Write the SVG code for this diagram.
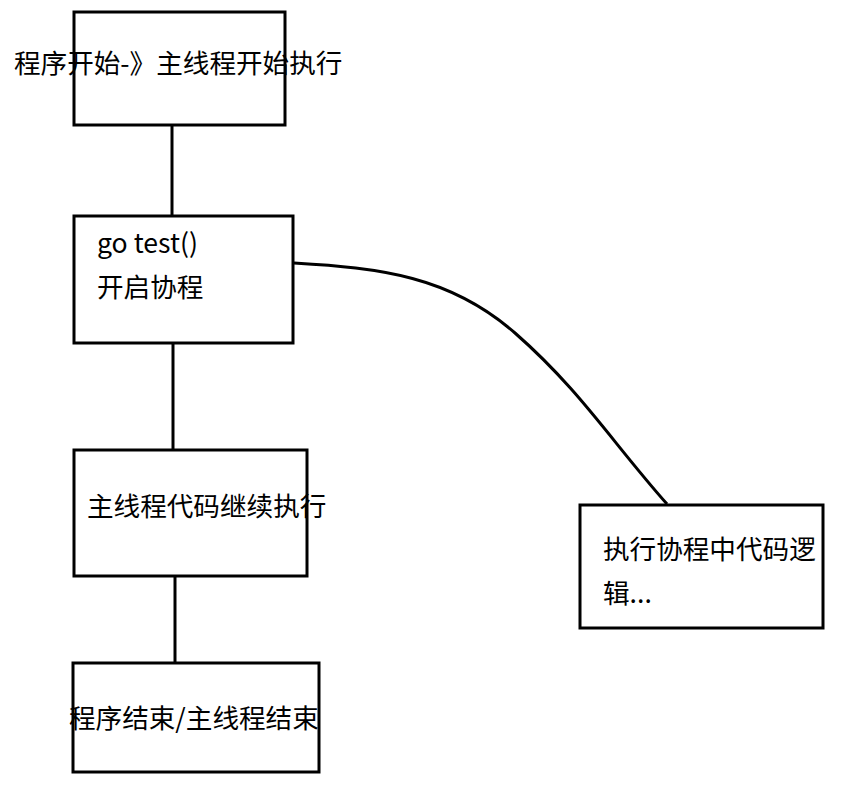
<svg xmlns="http://www.w3.org/2000/svg" width="855" height="794" viewBox="0 0 855 794">
<style>
.box{fill:#fff;stroke:#000;stroke-width:3}
.t{font-family:"Noto Sans CJK SC","Noto Sans",sans-serif;font-size:26.6px;fill:#000}
.c{fill:none;stroke:#000;stroke-width:3}
</style>
<rect width="855" height="794" fill="#fff"/>
<g id="connectors">
<line class="c" x1="172" y1="125" x2="172" y2="216"/>
<line class="c" x1="173" y1="343" x2="173" y2="450"/>
<line class="c" x1="175" y1="576" x2="175" y2="663"/>
<path class="c" stroke-width="2.6" d="M294,263 C380,268 450,276 515,333 S612,442 667,504"/>
</g>
<g id="n1"><rect class="box" x="74" y="12" width="211" height="113"/><text class="t" x="14" y="73">程序开始-》主线程开始执行</text></g>
<g id="n2"><rect class="box" x="74" y="216" width="219" height="127"/><text class="t" x="97" y="253">go test()</text><text class="t" x="97" y="297">开启协程</text></g>
<g id="n3"><rect class="box" x="74" y="450" width="233" height="126"/><text class="t" x="87" y="516">主线程代码继续执行</text></g>
<g id="n4"><rect class="box" x="73" y="663" width="246" height="109"/><text class="t" x="69" y="728">程序结束/主线程结束</text></g>
<g id="n5"><rect class="box" x="580" y="505" width="243" height="123"/><text class="t" x="603" y="559">执行协程中代码逻</text><text class="t" x="603" y="603">辑...</text></g>
</svg>
